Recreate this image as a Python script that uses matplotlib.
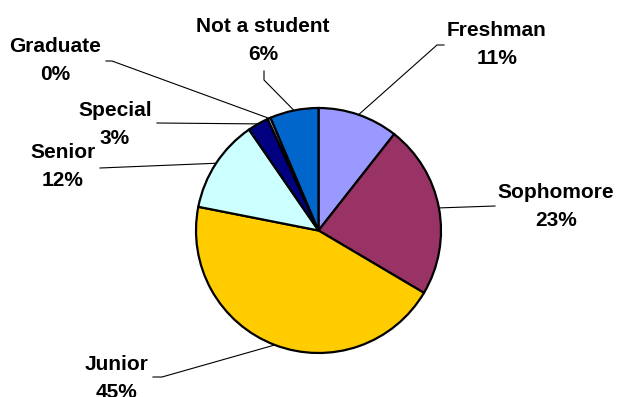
import numpy as np
import matplotlib.pyplot as plt

categories = ["Freshman", "Sophomore", "Junior", "Senior", "Special", "Graduate", "Not a student"]
shares = [10.6, 22.9, 44.6, 12.3, 2.8, 0.4, 6.4]
colors = ["#9999FF", "#993366", "#FFCC00", "#CCFFFF", "#000080", "#CCCCFF", "#0066CC"]

W, H = 620, 397
cx, cy, r = 318.5, H - 230.5, 122.5

# label layout in pixel coords (top-left origin): text centre, elbow, stub end
text_pos = [(497, 45), (556, 206), (117, 378), (63, 167), (115, 124), (55, 61), (263, 40)]
elbows = [(437, 45), (495, 206), (162, 377), (100, 168), (157, 123), (112, 61), (264, 80)]
stubs = [(444, 45), None, (153, 377), None, None, (106, 61), (264, 71)]

fig = plt.figure(figsize=(W / 100, H / 100), dpi=100)
ax = fig.add_axes([0, 0, 1, 1])
wedges, _ = ax.pie(shares, colors=colors, startangle=90, counterclock=False,
                   center=(cx, cy), radius=r,
                   wedgeprops=dict(edgecolor="black", linewidth=1.6))
ax.set_xlim(0, W)
ax.set_ylim(0, H)
ax.set_aspect("equal")
ax.axis("off")

total = sum(shares)
for w, name, v, tp, el, st in zip(wedges, categories, shares, text_pos, elbows, stubs):
    mid = np.deg2rad((w.theta1 + w.theta2) / 2)
    ax_pt = (cx + r * np.cos(mid), cy + r * np.sin(mid))
    xs = [ax_pt[0], el[0]]
    ys = [ax_pt[1], H - el[1]]
    if st is not None:
        xs.append(st[0])
        ys.append(H - st[1])
    ax.plot(xs, ys, color="black", linewidth=0.8)
    ax.text(tp[0], H - tp[1], f"{name}\n{v / total * 100:.0f}%", ha="center", va="center",
            fontsize=15, fontweight="bold", family="Liberation Sans", linespacing=1.6)

fig.savefig("out.png", dpi=100)
